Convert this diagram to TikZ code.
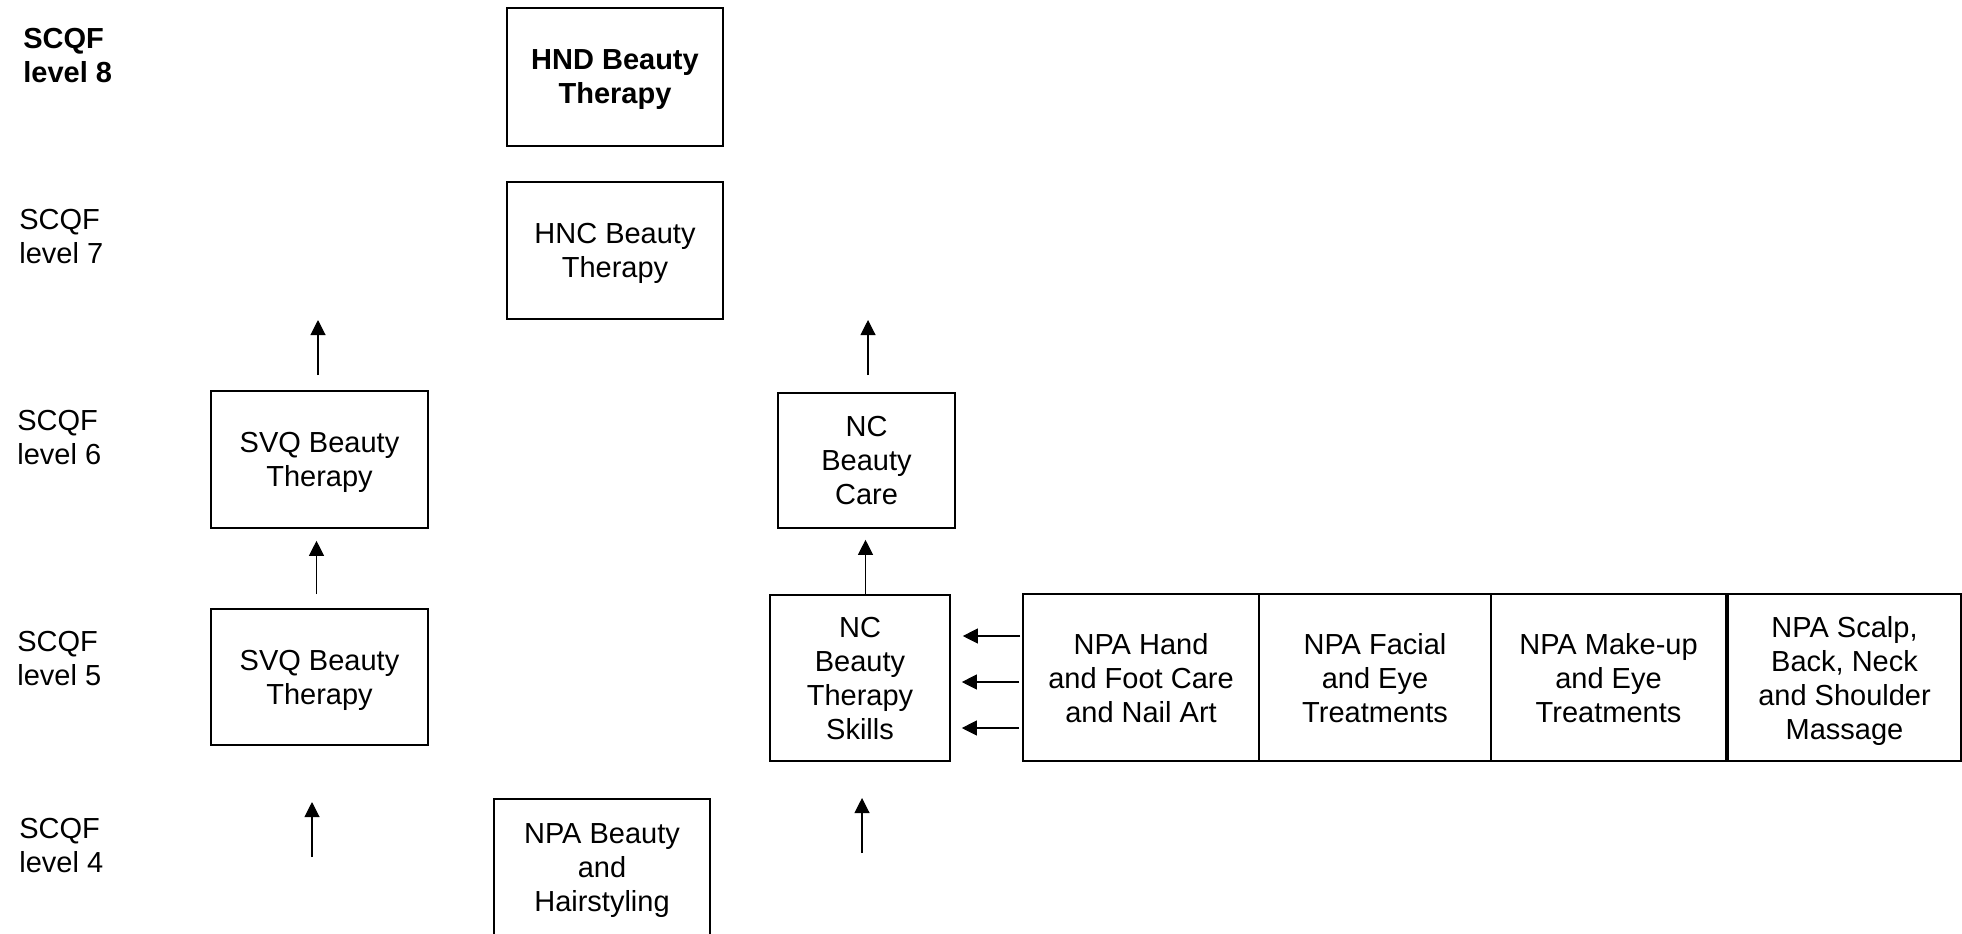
\documentclass[tikz,border=0pt]{standalone}
\usepackage{fontspec}
\setmainfont{Liberation Sans}
\usetikzlibrary{arrows.meta}
\begin{document}
\begin{tikzpicture}[x=0.5pt,y=-0.5pt,
  every node/.style={font=\fontsize{14.5}{17}\selectfont},
  box/.style={draw=black,line width=0.8pt,inner sep=0pt,align=center,anchor=center,text depth=-1.3pt},
  lvl/.style={anchor=west,align=left,inner sep=0pt},
  arr/.style={line width=0.55pt,-{Triangle[length=7.5pt,width=7.5pt]}}]
\useasboundingbox (0,0) rectangle (1962,933);
% level labels
\node[lvl,font=\fontsize{14.5}{17}\selectfont\bfseries] (l8) at (23,56) {SCQF\\level 8};
\node[lvl] (l7) at (19,237) {SCQF\\level 7};
\node[lvl] (l6) at (17,437.5) {SCQF\\level 6};
\node[lvl] (l5) at (17,658) {SCQF\\level 5};
\node[lvl] (l4) at (19,845) {SCQF\\level 4};
% boxes
\node[box,minimum width=108pt,minimum height=69pt,font=\fontsize{14.5}{17}\selectfont\bfseries] (hnd) at (615,77) {HND Beauty\\Therapy};
\node[box,minimum width=108pt,minimum height=68.5pt] (hnc) at (615,250.5) {HNC Beauty\\Therapy};
\node[box,minimum width=108.5pt,minimum height=68.5pt] (svq6) at (319.5,459.5) {SVQ Beauty\\Therapy};
\node[box,minimum width=108.5pt,minimum height=68pt] (svq5) at (319.5,677) {SVQ Beauty\\Therapy};
\node[box,minimum width=108pt,minimum height=68.5pt] (npab) at (602,867.5) {NPA Beauty\\and\\Hairstyling};
\node[box,minimum width=88.5pt,minimum height=67.5pt] (ncc) at (866.5,460.5) {NC\\Beauty\\Care};
\node[box,minimum width=90pt,minimum height=83pt] (ncs) at (860,678) {NC\\Beauty\\Therapy\\Skills};
\node[box,minimum width=118pt,minimum height=83.5pt] (hand) at (1141,677.5) {NPA Hand\\and Foot Care\\and Nail Art};
\node[box,minimum width=116pt,minimum height=83.5pt] (fac) at (1375,677.5) {NPA Facial\\and Eye\\Treatments};
\node[box,minimum width=117.5pt,minimum height=83.5pt] (mk) at (1608.5,677.5) {NPA Make-up\\and Eye\\Treatments};
\node[box,minimum width=116.5pt,minimum height=83.5pt] (sc) at (1844.5,677.5) {NPA Scalp,\\Back, Neck\\and Shoulder\\Massage};
% free arrow ends
\coordinate (t1) at (318,320);
\coordinate (b1) at (318,375);
\coordinate (t2) at (868,320);
\coordinate (b2) at (868,375);
\coordinate (t3) at (312,802);
\coordinate (b3) at (312,857);
\coordinate (t4) at (862,798);
\coordinate (b4) at (862,853);
\coordinate (h1) at (0,636);
\coordinate (h2) at (0,682);
\coordinate (h3) at (0,728);
% arrows
\draw[arr] (b1) -- (t1);
\draw[arr] (b2) -- (t2);
\draw[arr] (b3) -- (t3);
\draw[arr] (b4) -- (t4);
\draw[arr,shorten <=7pt,shorten >=6pt] ([xshift=-1.5pt]svq5.north) -- ([xshift=-1.5pt]svq6.south);
\draw[arr,shorten <=1pt,shorten >=5.5pt] ([xshift=2pt]ncs.north) -- ([xshift=-0.5pt]ncc.south |- ncs.north) -- ([xshift=-0.5pt]ncc.south);
\draw[arr,shorten <=1pt,shorten >=6pt] (hand.west |- h1) -- (ncs.east |- h1);
\draw[arr,shorten <=1.5pt,shorten >=5.5pt] (hand.west |- h2) -- (ncs.east |- h2);
\draw[arr,shorten <=1.5pt,shorten >=5.5pt] (hand.west |- h3) -- (ncs.east |- h3);
\end{tikzpicture}
\end{document}
